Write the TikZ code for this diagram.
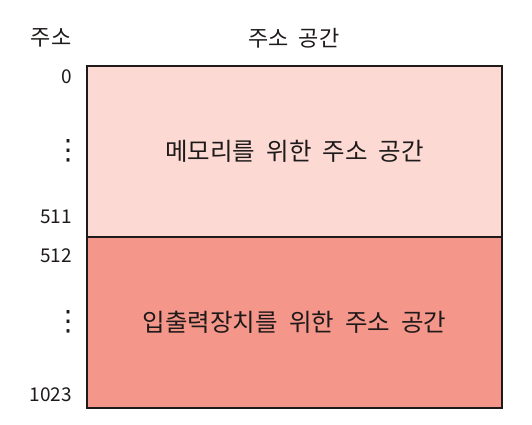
\documentclass[tikz,border=0pt]{standalone}
\usepackage{fontspec}
\setmainfont{Noto Sans CJK KR}
\newfontfamily\symfont{DejaVu Sans}
\usetikzlibrary{positioning}
\definecolor{memfill}{HTML}{FCDAD3}
\definecolor{iofill}{HTML}{F4968A}
\definecolor{ink}{HTML}{1E1A1A}

\begin{document}
\begin{tikzpicture}[x=1pt,y=-1pt,
        area/.style={draw=ink, line width=1.5pt, minimum width=415pt, minimum height=171pt,
                     inner sep=0pt, outer sep=0pt, text=ink, font=\fontsize{24.5}{24.5}\selectfont},
        addr/.style={anchor=east, inner sep=0pt, text=ink, font=\fontsize{19}{19}\selectfont},
        dotsv/.style={inner sep=0pt, text=ink, font=\symfont\fontsize{28}{28}\selectfont},
        head/.style={inner sep=0pt, text=ink, font=\fontsize{22}{22}\selectfont}]
                \useasboundingbox (0,0) rectangle (532,425);

                \node[area, fill=memfill] (mem) at (294.5,151.5) {메모리를\ \ 위한\ \ 주소\ \ 공간};
                \node[area, fill=iofill, below=0pt of mem] (io) {입출력장치를\ \ 위한\ \ 주소\ \ 공간};
                \draw[ink, line width=1.5pt] (mem.south west) -- (mem.south east);

                \node[head] (addrhead) at (51,38) {주소};
                \node[head] (spacehead) at (294,38) {주소\ \ 공간};

                \node[addr] (a0) at (72,77) {0};
                \node[dotsv] (d1) at (68,151) {⋮};
                \node[addr] (a511) at (72,217) {511};
                \node[addr] (a512) at (72,256) {512};
                \node[dotsv] (d2) at (68,322) {⋮};
                \node[addr] (a1023) at (72,395) {1023};
            \end{tikzpicture}
\end{document}
